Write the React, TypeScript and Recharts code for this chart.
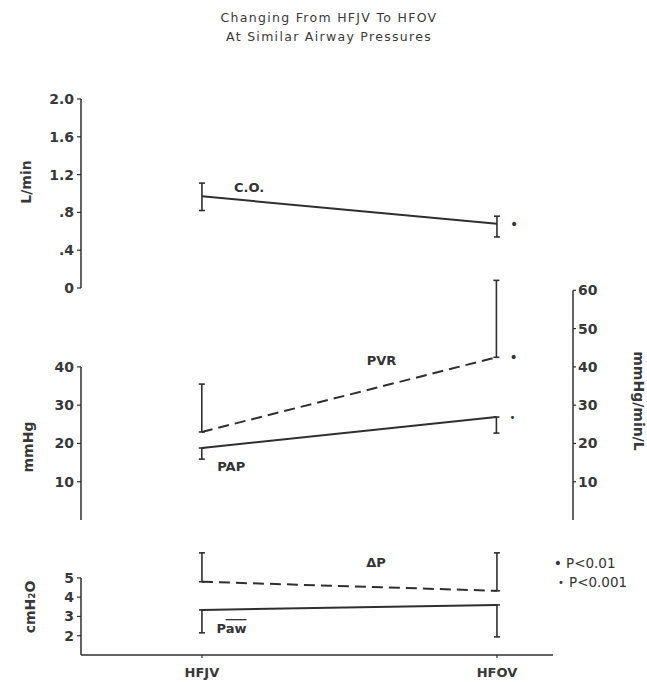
import React from 'react';
import { LineChart, Line, XAxis, YAxis, ErrorBar, ReferenceLine, ReferenceDot } from 'recharts';

// ---- data ----
const categories = ['HFJV', 'HFOV'];

const coValues = [0.97, 0.68];
const coErrLow = [0.15, 0.14];
const coErrHigh = [0.14, 0.08];

const papValues = [18.8, 26.9];
const papErrLow = [2.9, 4.2];

const pvrValues = [23.0, 42.5];
const pvrErrHigh = [12.5, 20.1];

const deltaPValues = [4.8, 4.33];
const deltaPErrHigh = [1.5, 1.97];

const pawValues = [3.34, 3.6];
const pawErrLow = [1.19, 1.66];

const coTicks = [0, 0.4, 0.8, 1.2, 1.6, 2.0];
const mmHgTicks = [10, 20, 30, 40];
const pvrTicks = [10, 20, 30, 40, 50, 60];
const cmH2OTicks = [2, 3, 4, 5];

const titleLines = ['Changing From HFJV To HFOV', 'At Similar Airway Pressures'];
const legendItems = ['P<0.01', 'P<0.001'];

// ---- table built from the arrays ----
const chartData = categories.map((name, i) => ({
  x: i,
  name,
  co: coValues[i],
  coErr: [coErrLow[i], coErrHigh[i]],
  pap: papValues[i],
  papErr: [papErrLow[i], 0],
  pvr: pvrValues[i],
  pvrErr: [0, pvrErrHigh[i]],
  dp: deltaPValues[i],
  dpErr: [0, deltaPErrHigh[i]],
  paw: pawValues[i],
  pawErr: [pawErrLow[i], 0],
}));

const ink = '#2f2f2f';
const font = 'DejaVu Sans, sans-serif';
const tickStyle = { fill: '#383838', fontSize: 14, fontWeight: 700, fontFamily: font };
const X_DOMAIN: [number, number] = [-0.41, 1.19];
const X_DOMAIN_MID: [number, number] = [-0.41, 1.26];

const fmtCO = (v: number) => (v === 0 ? '0' : v >= 1 ? v.toFixed(1) : v.toFixed(1).replace(/^0/, ''));

const textLabel = (value: string) => ({
  value,
  position: 'center' as const,
  fill: '#333',
  fontSize: 13,
  fontWeight: 700,
  fontFamily: font,
});

const markLabel = (value: string, size: number) => ({
  value,
  position: 'right' as const,
  offset: 13,
  fill: '#333',
  fontSize: size,
  fontFamily: font,
});

const PawLabel = (props: any) => {
  const vb = props.viewBox || {};
  return (
    <text
      x={vb.x}
      y={vb.y}
      textAnchor="middle"
      dominantBaseline="central"
      fill="#333"
      fontSize={13}
      fontWeight={700}
      fontFamily={font}
    >
      P<tspan style={{ textDecoration: 'overline' }}>aw</tspan>
    </text>
  );
};

export default function App() {
  return (
    <div style={{ position: 'absolute', left: 0, top: 0, width: 647, height: 682, background: '#fff', overflow: 'hidden' }}>
      {/* Top panel: cardiac output */}
      <div style={{ position: 'absolute', left: 0, top: 89 }}>
        <LineChart width={647} height={209} data={chartData} margin={{ top: 10, right: 94, bottom: 10, left: 0 }}>
          <XAxis type="number" dataKey="x" domain={X_DOMAIN} allowDataOverflow hide />
          <YAxis
            domain={[0, 2]}
            ticks={coTicks}
            interval={0}
            allowDataOverflow
            width={81}
            tickFormatter={fmtCO}
            tick={tickStyle}
            tickSize={4}
            tickMargin={3}
            axisLine={{ stroke: ink, strokeWidth: 1.5 }}
            tickLine={{ stroke: ink, strokeWidth: 1.2 }}
          />
          <Line dataKey="co" stroke={ink} strokeWidth={2} dot={false} isAnimationActive={false}>
            <ErrorBar dataKey="coErr" direction="y" width={3} stroke={ink} strokeWidth={1.6} />
          </Line>
          <ReferenceDot x={0.16} y={1.07} r={0} fill="none" stroke="none" label={textLabel('C.O.')} />
          <ReferenceDot x={1} y={coValues[1]} r={0} fill="none" stroke="none" label={markLabel('•', 14)} />
        </LineChart>
      </div>

      {/* Middle panel: PAP and PVR */}
      <div style={{ position: 'absolute', left: 0, top: 265 }}>
        <LineChart width={647} height={265} data={chartData} margin={{ top: 10, right: 0, bottom: 10, left: 0 }}>
          <XAxis type="number" dataKey="x" domain={X_DOMAIN_MID} allowDataOverflow hide />
          <YAxis
            yAxisId="mmHg"
            domain={[0, 64]}
            ticks={mmHgTicks}
            interval={0}
            allowDataOverflow
            width={81}
            tick={tickStyle}
            tickSize={4}
            tickMargin={3}
            axisLine={false}
            tickLine={{ stroke: ink, strokeWidth: 1.2 }}
          />
          <YAxis
            yAxisId="pvr"
            orientation="right"
            domain={[0, 64]}
            ticks={pvrTicks}
            interval={0}
            allowDataOverflow
            width={74}
            tick={tickStyle}
            tickSize={3}
            tickMargin={2}
            axisLine={false}
            tickLine={{ stroke: ink, strokeWidth: 1.2 }}
          />
          <ReferenceLine
            yAxisId="mmHg"
            ifOverflow="visible"
            segment={[{ x: X_DOMAIN_MID[0], y: 0 }, { x: X_DOMAIN_MID[0], y: mmHgTicks[mmHgTicks.length - 1] }]}
            stroke={ink}
            strokeWidth={1.5}
          />
          <ReferenceLine
            yAxisId="pvr"
            ifOverflow="visible"
            segment={[{ x: X_DOMAIN_MID[1], y: 0 }, { x: X_DOMAIN_MID[1], y: pvrTicks[pvrTicks.length - 1] }]}
            stroke={ink}
            strokeWidth={1.5}
          />
          <Line yAxisId="pvr" dataKey="pvr" stroke={ink} strokeWidth={2} strokeDasharray="11 6" dot={false} isAnimationActive={false}>
            <ErrorBar dataKey="pvrErr" direction="y" width={3} stroke={ink} strokeWidth={1.6} />
          </Line>
          <Line yAxisId="mmHg" dataKey="pap" stroke={ink} strokeWidth={2} dot={false} isAnimationActive={false}>
            <ErrorBar dataKey="papErr" direction="y" width={3} stroke={ink} strokeWidth={1.6} />
          </Line>
          <ReferenceDot yAxisId="pvr" x={0.61} y={41.7} r={0} fill="none" stroke="none" label={textLabel('PVR')} />
          <ReferenceDot yAxisId="mmHg" x={0.1} y={14.0} r={0} fill="none" stroke="none" label={textLabel('PAP')} />
          <ReferenceDot yAxisId="pvr" x={1} y={pvrValues[1]} r={0} fill="none" stroke="none" label={markLabel('•', 14)} />
          <ReferenceDot yAxisId="mmHg" x={1} y={papValues[1]} r={0} fill="none" stroke="none" label={markLabel('•', 10)} />
        </LineChart>
      </div>

      {/* Bottom panel: airway pressures */}
      <div style={{ position: 'absolute', left: 0, top: 539 }}>
        <LineChart width={647} height={143} data={chartData} margin={{ top: 10, right: 94, bottom: 0, left: 0 }}>
          <XAxis
            type="number"
            dataKey="x"
            domain={X_DOMAIN}
            allowDataOverflow
            ticks={[0, 1]}
            interval={0}
            tickFormatter={(i: number) => categories[i]}
            height={27}
            tick={{ ...tickStyle, fontSize: 13 }}
            tickSize={3}
            tickMargin={10}
            axisLine={{ stroke: ink, strokeWidth: 1.5 }}
            tickLine={{ stroke: ink, strokeWidth: 1.2 }}
          />
          <YAxis
            domain={[1, 6.5]}
            ticks={cmH2OTicks}
            interval={0}
            allowDataOverflow
            width={81}
            tick={tickStyle}
            tickSize={4}
            tickMargin={3}
            axisLine={false}
            tickLine={{ stroke: ink, strokeWidth: 1.2 }}
          />
          <ReferenceLine
            ifOverflow="visible"
            segment={[{ x: X_DOMAIN[0], y: 1 }, { x: X_DOMAIN[0], y: cmH2OTicks[cmH2OTicks.length - 1] }]}
            stroke={ink}
            strokeWidth={1.5}
          />
          <Line dataKey="dp" stroke={ink} strokeWidth={2} strokeDasharray="11 6" dot={false} isAnimationActive={false}>
            <ErrorBar dataKey="dpErr" direction="y" width={3} stroke={ink} strokeWidth={1.6} />
          </Line>
          <Line dataKey="paw" stroke={ink} strokeWidth={2} dot={false} isAnimationActive={false}>
            <ErrorBar dataKey="pawErr" direction="y" width={3} stroke={ink} strokeWidth={1.6} />
          </Line>
          <ReferenceDot x={0.59} y={5.83} r={0} fill="none" stroke="none" label={textLabel('ΔP')} />
          <ReferenceDot x={0.1} y={2.4} r={0} fill="none" stroke="none" label={{ content: PawLabel }} />
        </LineChart>
      </div>

      {/* Titles, axis titles and legend */}
      <svg width={647} height={682} style={{ position: 'absolute', left: 0, top: 0, pointerEvents: 'none' }}>
        <text x={329} y={22} textAnchor="middle" fill="#3a3a3a" fontSize={12.5} fontFamily={font} letterSpacing={1.3}>
          {titleLines[0]}
        </text>
        <text x={329} y={41} textAnchor="middle" fill="#3a3a3a" fontSize={12.5} fontFamily={font} letterSpacing={1.3}>
          {titleLines[1]}
        </text>
        <text x={26} y={182} transform="rotate(-90 26 182)" textAnchor="middle" dominantBaseline="central" fill="#383838" fontSize={14} fontWeight={700} fontFamily={font}>
          L/min
        </text>
        <text x={28} y={447} transform="rotate(-90 28 447)" textAnchor="middle" dominantBaseline="central" fill="#383838" fontSize={14} fontWeight={700} fontFamily={font}>
          mmHg
        </text>
        <text x={30} y={607} transform="rotate(-90 30 607)" textAnchor="middle" dominantBaseline="central" fill="#383838" fontSize={14} fontWeight={700} fontFamily={font}>
          cmH₂O
        </text>
        <text x={639} y={401} transform="rotate(90 639 401)" textAnchor="middle" dominantBaseline="central" fill="#383838" fontSize={14} fontWeight={700} fontFamily={font}>
          mmHg/min/L
        </text>
        <text x={558} y={563} textAnchor="middle" dominantBaseline="central" fill="#333" fontSize={14} fontFamily={font}>•</text>
        <text x={566} y={563} dominantBaseline="central" fill="#333" fontSize={13.5} fontFamily={font}>{legendItems[0]}</text>
        <text x={561} y={582} textAnchor="middle" dominantBaseline="central" fill="#333" fontSize={10} fontFamily={font}>•</text>
        <text x={569} y={582} dominantBaseline="central" fill="#333" fontSize={13.5} fontFamily={font}>{legendItems[1]}</text>
      </svg>
    </div>
  );
}
